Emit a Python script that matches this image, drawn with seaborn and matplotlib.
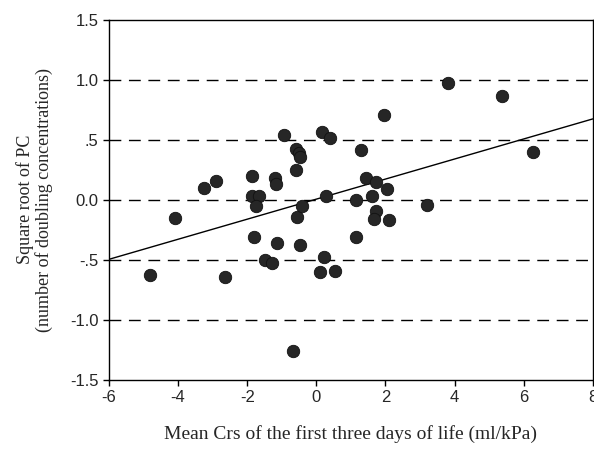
import numpy as np
import pandas as pd
import matplotlib
matplotlib.use("Agg")
import matplotlib.pyplot as plt
import seaborn as sns

# values
crs_mean = [-3.24, -2.91, -1.85, -1.20, -1.17, -0.93, -0.60, -0.50, -0.47, -0.60,
            0.17, 0.39, -1.85, -1.65, 0.28, -4.81, -4.08, -2.65, -1.75, -1.79,
            -1.13, -1.49, -1.28, -0.48, -0.56, -0.41, -0.68, 0.22, 0.12, 0.54,
            3.80, 5.36, 1.95, 1.30, 6.28, 1.43, 1.72, 2.03, 1.14, 1.60,
            3.19, 1.72, 1.67, 2.10, 1.14]
sqrt_pc = [0.10, 0.16, 0.20, 0.18, 0.13, 0.54, 0.42, 0.39, 0.355, 0.25,
           0.56, 0.51, 0.03, 0.03, 0.03, -0.625, -0.15, -0.64, -0.055, -0.31,
           -0.36, -0.50, -0.53, -0.375, -0.14, -0.05, -1.26, -0.48, -0.60, -0.59,
           0.975, 0.86, 0.705, 0.41, 0.40, 0.18, 0.15, 0.09, -0.005, 0.03,
           -0.045, -0.09, -0.16, -0.17, -0.31]

y_ticks = [1.5, 1.0, 0.5, 0.0, -0.5, -1.0, -1.5]
y_tick_labels = ["1.5", "1.0", ".5", "0.0", "-.5", "-1.0", "-1.5"]
x_ticks = [-6, -4, -2, 0, 2, 4, 6, 8]

df = pd.DataFrame({"crs": crs_mean, "pc": sqrt_pc})

sns.set_style("ticks")
plt.rcParams['font.family'] = ['Liberation Sans', 'DejaVu Sans']
plt.rcParams['axes.unicode_minus'] = False

fig, ax = plt.subplots(figsize=(5.94, 4.54), dpi=100)
fig.subplots_adjust(left=0.1835, right=0.998, top=0.957, bottom=0.163)

ax.set_xlim(-6, 8)
ax.set_ylim(-1.5, 1.5)

# dashed reference lines
for yv in [1.0, 0.5, 0.0, -0.5, -1.0]:
    ax.axhline(yv, color="black", lw=1.0, dashes=(8.5, 5.5), zorder=1)

sns.regplot(data=df, x="crs", y="pc", scatter=False, ci=None, truncate=False,
            line_kws={"color": "black", "lw": 1.0}, ax=ax)
sns.scatterplot(data=df, x="crs", y="pc", s=80, color="#262626",
                edgecolor="#111111", linewidth=0.6, ax=ax, zorder=3)

ax.set_xticks(x_ticks)
ax.set_yticks(y_ticks)
ax.set_yticklabels(y_tick_labels)
ax.tick_params(labelsize=12, direction="out", length=4, width=1, color="black")
ax.tick_params(axis="y", right=True)
for s in ax.spines.values():
    s.set_visible(True)
    s.set_color("black")
    s.set_linewidth(1.0)

ax.set_xlabel("Mean Crs of the first three days of life (ml/kPa)",
              family="Liberation Serif", fontsize=14, labelpad=14)
ax.set_ylabel("Square root of PC\n(number of doubling concentrations)",
              family="Liberation Serif", fontsize=13, labelpad=12,
              linespacing=1.1)

fig.savefig("out.png", dpi=100)
